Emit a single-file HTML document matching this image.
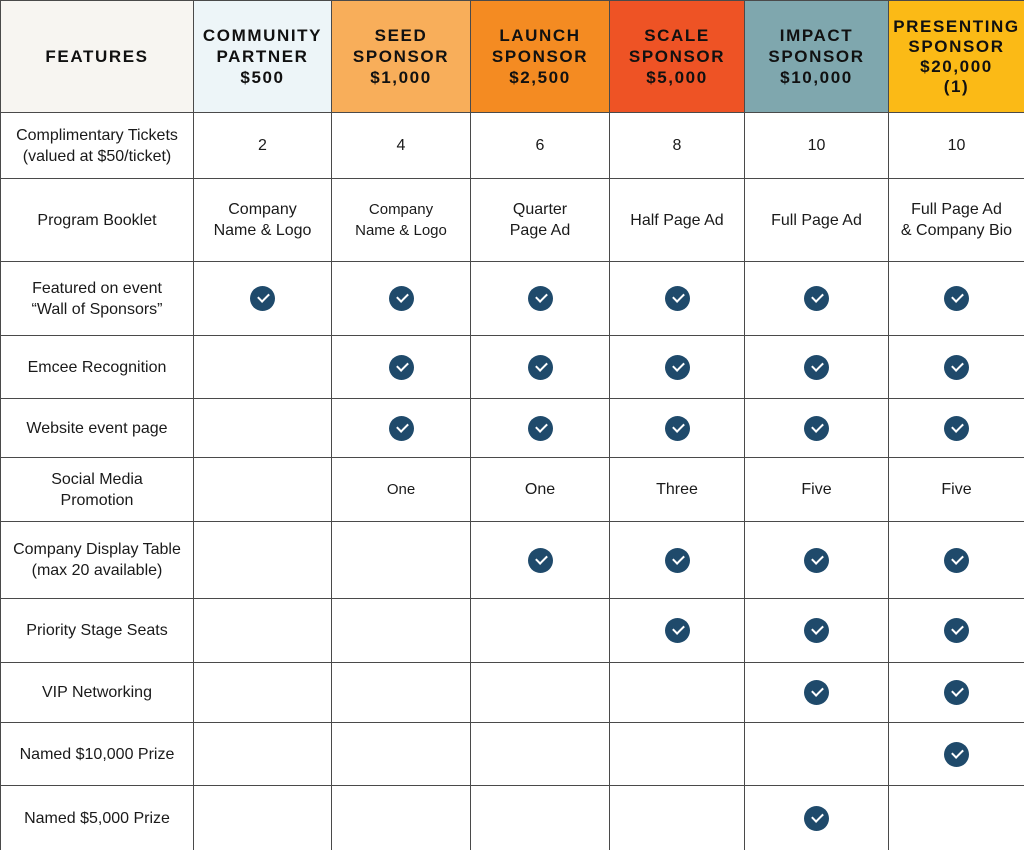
<!DOCTYPE html>
<html><head><meta charset="utf-8"><style>
html,body{margin:0;padding:0;background:#fff;width:1024px;height:850px;overflow:hidden}
table{border-collapse:collapse;table-layout:fixed;width:1024px;height:850px;font-family:"Liberation Sans",sans-serif;color:#1a1a1a}
td{border:1.5px solid #4a4a4a;text-align:center;vertical-align:middle;font-size:16px;line-height:21px;padding:0 2px;overflow:hidden}
th{border:1.5px solid #4a4a4a;font-weight:bold;font-size:17px;letter-spacing:1.6px;line-height:21px;color:#111;padding:0}
.c{display:inline-block;width:25px;height:25px;border-radius:50%;background:#1f4a6b;position:relative;vertical-align:middle}
.c:after{content:"";position:absolute;left:8px;top:7px;width:9px;height:5px;border-left:2.5px solid #fff;border-bottom:2.5px solid #fff;transform:rotate(-45deg)}
</style></head><body>
<table>
<colgroup><col style="width:193px"><col style="width:138px"><col style="width:139px"><col style="width:139px"><col style="width:135px"><col style="width:144px"><col style="width:136px"></colgroup>
<tr style="height:112px">
<th style="background:#f7f5f1">FEATURES</th>
<th style="background:#edf5f8">COMMUNITY<br>PARTNER<br>$500</th>
<th style="background:#f8ae5a">SEED<br>SPONSOR<br>$1,000</th>
<th style="background:#f48b22">LAUNCH<br>SPONSOR<br>$2,500</th>
<th style="background:#ee5325">SCALE<br>SPONSOR<br>$5,000</th>
<th style="background:#7fa7ae">IMPACT<br>SPONSOR<br>$10,000</th>
<th style="background:#fbba16;line-height:20px">PRESENTING<br>SPONSOR<br>$20,000<br>(1)</th>
</tr>
<tr style="height:66px"><td>Complimentary Tickets<br>(valued at $50/ticket)</td><td>2</td><td>4</td><td>6</td><td>8</td><td>10</td><td>10</td></tr>
<tr style="height:83px"><td>Program Booklet</td><td>Company<br>Name &amp; Logo</td><td style="font-size:15px">Company<br>Name &amp; Logo</td><td>Quarter<br>Page Ad</td><td>Half Page Ad</td><td>Full Page Ad</td><td>Full Page Ad<br>&amp; Company Bio</td></tr>
<tr style="height:74px"><td>Featured on event<br>“Wall of Sponsors”</td><td><span class="c"></span></td><td><span class="c"></span></td><td><span class="c"></span></td><td><span class="c"></span></td><td><span class="c"></span></td><td><span class="c"></span></td></tr>
<tr style="height:63px"><td>Emcee Recognition</td><td></td><td><span class="c"></span></td><td><span class="c"></span></td><td><span class="c"></span></td><td><span class="c"></span></td><td><span class="c"></span></td></tr>
<tr style="height:59px"><td>Website event page</td><td></td><td><span class="c"></span></td><td><span class="c"></span></td><td><span class="c"></span></td><td><span class="c"></span></td><td><span class="c"></span></td></tr>
<tr style="height:64px"><td>Social Media<br>Promotion</td><td></td><td style="font-size:15px">One</td><td>One</td><td>Three</td><td>Five</td><td>Five</td></tr>
<tr style="height:77px"><td>Company Display Table<br>(max 20 available)</td><td></td><td></td><td><span class="c"></span></td><td><span class="c"></span></td><td><span class="c"></span></td><td><span class="c"></span></td></tr>
<tr style="height:64px"><td>Priority Stage Seats</td><td></td><td></td><td></td><td><span class="c"></span></td><td><span class="c"></span></td><td><span class="c"></span></td></tr>
<tr style="height:60px"><td>VIP Networking</td><td></td><td></td><td></td><td></td><td><span class="c"></span></td><td><span class="c"></span></td></tr>
<tr style="height:63px"><td>Named $10,000 Prize</td><td></td><td></td><td></td><td></td><td></td><td><span class="c"></span></td></tr>
<tr style="height:65px"><td>Named $5,000 Prize</td><td></td><td></td><td></td><td></td><td><span class="c"></span></td><td></td></tr>
</table>
</body></html>
